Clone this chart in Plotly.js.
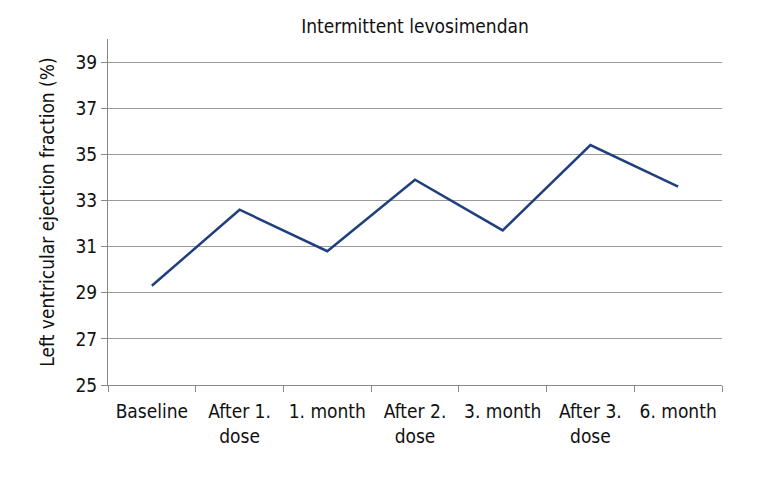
<!DOCTYPE html>
<html>
<head>
<meta charset="utf-8">
<script src="https://cdn.plot.ly/plotly-3.0.1.min.js"></script>
<style>html,body{margin:0;padding:0;background:#fff;}#chart{width:768px;height:480px;}</style>
</head>
<body>
<div id="chart"></div>
<script>
const categories = ["Baseline", "After 1.<br>dose", "1. month", "After 2.<br>dose", "3. month", "After 3.<br>dose", "6. month"];
const lvef = [29.3, 32.6, 30.8, 33.9, 31.7, 35.4, 33.6];
const yTicks = [25, 27, 29, 31, 33, 35, 37, 39];

const FONT = "'DejaVu Sans Condensed', 'Liberation Sans Narrow', sans-serif";

Plotly.newPlot("chart", [{
  x: categories,
  y: lvef,
  type: "scatter",
  mode: "lines",
  line: {color: "#203F7D", width: 2.5},
  showlegend: false,
  hoverinfo: "skip"
}], {
  width: 768, height: 480,
  margin: {l: 108, r: 46, t: 39, b: 95},
  paper_bgcolor: "#fff", plot_bgcolor: "#fff",
  font: {family: FONT, color: "#111", size: 19},
  title: {text: "Intermittent levosimendan", xref: "paper", x: 0.5, xanchor: "center", yref: "container", y: 0.96, yanchor: "top", font: {family: FONT, size: 19, color: "#111"}},
  xaxis: {
    type: "category",
    tickson: "boundaries",
    ticks: "outside", ticklen: 6, tickcolor: "#888", tickwidth: 1,
    showline: true, linecolor: "#888", linewidth: 1,
    showgrid: false, zeroline: false,
    ticklabelstandoff: 9,
    tickfont: {family: FONT, size: 19, color: "#111"},
    range: [-0.5, 6.5]
  },
  yaxis: {
    range: [25, 40],
    tickvals: yTicks,
    ticktext: yTicks.map(String),
    ticks: "outside", ticklen: 6, tickcolor: "#888", tickwidth: 1,
    showline: true, linecolor: "#888", linewidth: 1,
    showgrid: true, gridcolor: "#9a9a9a", gridwidth: 1,
    zeroline: false,
    tickfont: {family: FONT, size: 19, color: "#111"},
    title: {text: "Left ventricular ejection fraction (%)", standoff: 15, font: {family: FONT, size: 19, color: "#111"}}
  }
}, {staticPlot: true});
</script>
</body>
</html>
